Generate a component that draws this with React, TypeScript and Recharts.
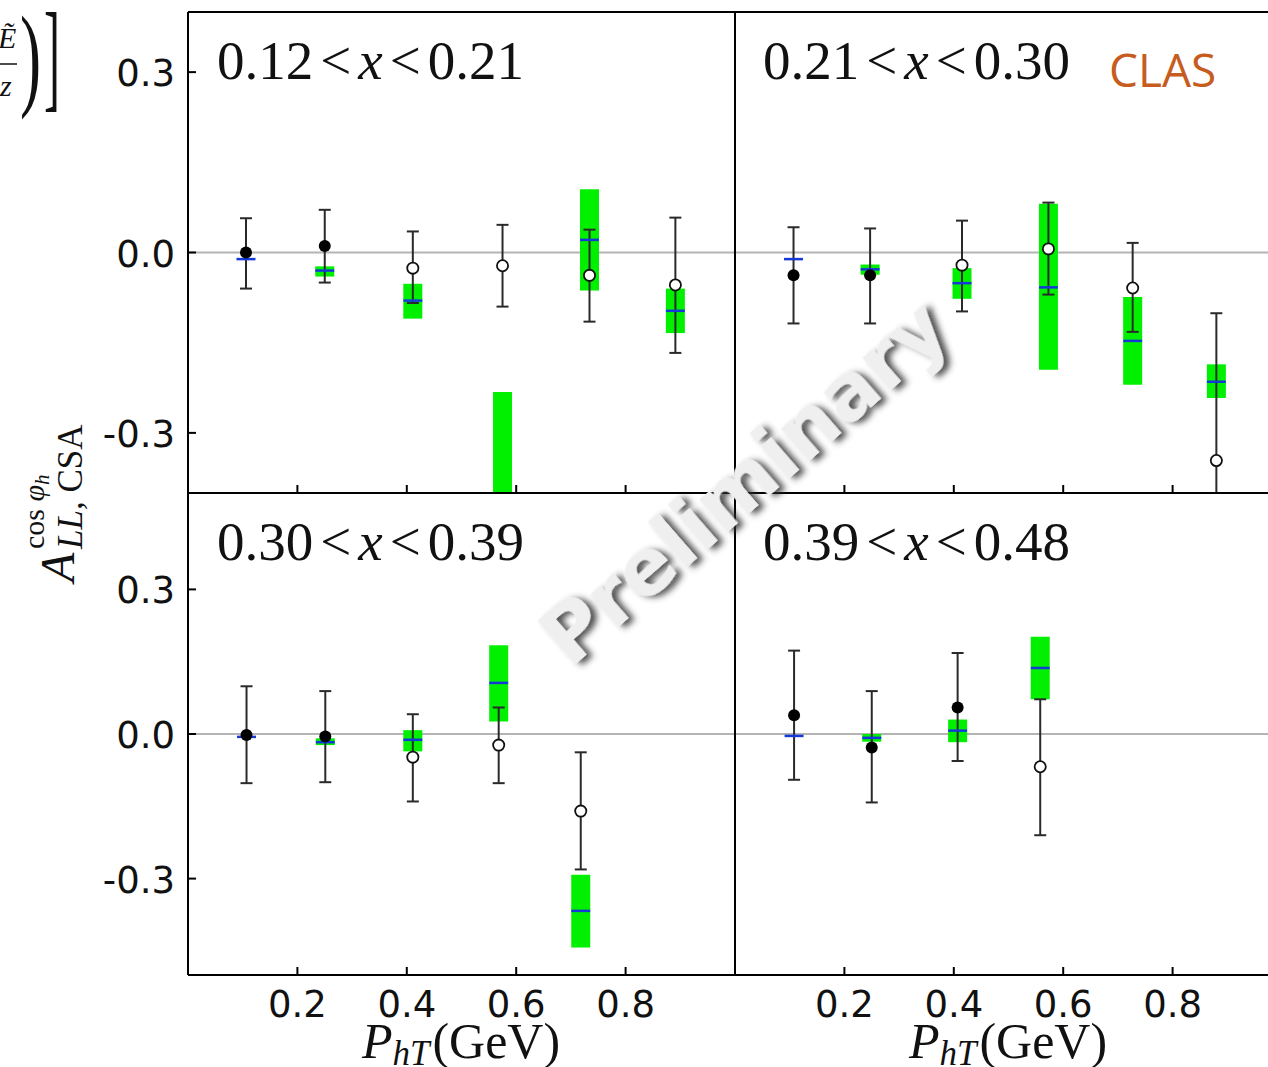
import React from 'react';
import { ScatterChart, Scatter, XAxis, YAxis, ErrorBar, ReferenceLine } from 'recharts';

// 0.12 < x < 0.21
const p1X = [0.106, 0.25, 0.411, 0.575, 0.734, 0.891];
const p1Val = [0.0, 0.011, -0.026, -0.022, -0.038, -0.054];
const p1Filled = [true, true, false, false, false, false];
const p1StatHi = [0.057, 0.071, 0.035, 0.046, 0.038, 0.058];
const p1StatLo = [-0.06, -0.05, -0.084, -0.09, -0.115, -0.167];
const p1Model = [-0.011, -0.03, -0.08, -0.45, 0.021, -0.097];
const p1BandHi = [-0.011, -0.023, -0.052, -0.232, 0.105, -0.06];
const p1BandLo = [-0.011, -0.04, -0.11, -0.67, -0.063, -0.134];

// 0.21 < x < 0.30
const p2X = [0.107, 0.247, 0.415, 0.573, 0.727, 0.88];
const p2Val = [-0.038, -0.038, -0.021, 0.006, -0.059, -0.346];
const p2Filled = [true, true, false, false, false, false];
const p2StatHi = [0.042, 0.04, 0.053, 0.083, 0.016, -0.101];
const p2StatLo = [-0.118, -0.118, -0.098, -0.07, -0.132, -0.591];
const p2Model = [-0.011, -0.028, -0.051, -0.058, -0.147, -0.215];
const p2BandHi = [-0.011, -0.02, -0.026, 0.081, -0.074, -0.186];
const p2BandLo = [-0.011, -0.037, -0.077, -0.195, -0.22, -0.242];

// 0.30 < x < 0.39
const p3X = [0.107, 0.251, 0.411, 0.568, 0.718];
const p3Val = [-0.002, -0.005, -0.048, -0.023, -0.16];
const p3Filled = [true, true, false, false, false];
const p3StatHi = [0.099, 0.089, 0.041, 0.055, -0.038];
const p3StatLo = [-0.102, -0.1, -0.14, -0.102, -0.281];
const p3Model = [-0.006, -0.017, -0.012, 0.106, -0.367];
const p3BandHi = [-0.006, -0.009, 0.008, 0.184, -0.292];
const p3BandLo = [-0.006, -0.023, -0.036, 0.026, -0.443];

// 0.39 < x < 0.48
const p4X = [0.108, 0.25, 0.407, 0.558];
const p4Val = [0.039, -0.028, 0.055, -0.068];
const p4Filled = [true, true, true, false];
const p4StatHi = [0.173, 0.089, 0.168, 0.072];
const p4StatLo = [-0.095, -0.142, -0.056, -0.21];
const p4Model = [-0.004, -0.008, 0.007, 0.137];
const p4BandHi = [-0.004, 0.0, 0.03, 0.202];
const p4BandLo = [-0.004, -0.016, -0.017, 0.072];

const xTicks = [0.2, 0.4, 0.6, 0.8];
const yTicks = [-0.3, 0.0, 0.3];

const PLOT_W = 547;
const SERIF = '"Liberation Serif", "DejaVu Serif", serif';
const SANS = '"DejaVu Sans", sans-serif';

const buildPoints = (xs: number[], val: number[], lo: number[], hi: number[], filled: boolean[]) =>
    xs.map((x, i) => ({ x, y: val[i], err: [val[i] - lo[i], hi[i] - val[i]], filled: filled[i] }));

const buildModel = (xs: number[], model: number[], lo: number[], hi: number[]) =>
    xs.map((x, i) => ({ x, y: model[i], band: [model[i] - lo[i], hi[i] - model[i]] }));

const Dot = (props: any) => {
    const { cx, cy, payload } = props;
    if (cx == null || cy == null) return null;
    return payload.filled
        ? <circle cx={cx} cy={cy} r={6} fill="#000" />
        : <circle cx={cx} cy={cy} r={5.6} fill="#fff" stroke="#111" strokeWidth={1.8} />;
};

const BlueMark = (props: any) => {
    const { cx, cy } = props;
    if (cx == null || cy == null) return null;
    return <line x1={cx - 9.5} y1={cy} x2={cx + 9.5} y2={cy} stroke="#1638d8" strokeWidth={2.5} />;
};

const makeXTick = (label: boolean) => (props: any) => {
    const { x, y, payload } = props;
    return (
        <g>
            <line x1={x} y1={y} x2={x} y2={y - 8} stroke="#000" strokeWidth={2} />
            {label && (
                <text x={x} y={y + 42} textAnchor="middle" fontFamily={SANS} fontSize={37} fill="#111">
                    {Number(payload.value).toFixed(1)}
                </text>
            )}
        </g>
    );
};

const YTick = (props: any) => {
    const { x, y, payload } = props;
    return (
        <g>
            <line x1={x} y1={y} x2={x + 8} y2={y} stroke="#000" strokeWidth={2} />
            <text x={x - 13} y={y + 14} textAnchor="end" fontFamily={SANS} fontSize={37} fill="#111">
                {Number(payload.value).toFixed(1)}
            </text>
        </g>
    );
};

interface PanelProps {
    left: number;
    top: number;
    height: number;
    domain: [number, number];
    yLabels: boolean;
    xLabels: boolean;
    clipBottom: boolean;
    points: any[];
    model: any[];
}

const Panel: React.FC<PanelProps> = ({ left, top, height, domain, yLabels, xLabels, clipBottom, points, model }) => {
    const M = 4;
    const yw = yLabels ? 80 : 1;
    const xh = xLabels ? 60 : 1;
    const w = M + yw + PLOT_W + 1 + M;
    const h = M + 1 + height + xh + M;
    // top panels are cut at their lower frame, like the original figure
    const boxH = clipBottom ? M + 1 + height + 1 : h;
    return (
        <div style={{ position: 'absolute', left: left - M - yw, top: top - M - 1, width: w, height: boxH, overflow: 'hidden' }}>
            <ScatterChart width={w} height={h} margin={{ top: M, right: M, bottom: M, left: M }}>
                <XAxis
                    type="number" dataKey="x" domain={[0, 1]} ticks={xTicks} allowDataOverflow
                    height={xh} tickSize={0} tickMargin={0} tickLine={false}
                    axisLine={{ stroke: '#000', strokeWidth: 2 }}
                    tick={makeXTick(xLabels)}
                />
                <XAxis
                    xAxisId="top" orientation="top" type="number" domain={[0, 1]} height={1}
                    tick={false} tickLine={false} axisLine={{ stroke: '#000', strokeWidth: 2 }}
                />
                <YAxis
                    type="number" dataKey="y" domain={domain} ticks={yTicks} allowDataOverflow
                    width={yw} tickSize={0} tickMargin={0} tickLine={false}
                    axisLine={{ stroke: '#000', strokeWidth: 2 }}
                    tick={yLabels ? YTick : false}
                />
                <YAxis
                    yAxisId="right" orientation="right" type="number" domain={domain} width={1}
                    tick={false} tickLine={false} axisLine={{ stroke: '#000', strokeWidth: 2 }}
                />
                <ReferenceLine y={0} stroke="#b4b4b4" strokeWidth={2} />
                <Scatter data={model} shape={BlueMark} isAnimationActive={false}>
                    <ErrorBar dataKey="band" direction="y" width={0} stroke="#00f000" strokeWidth={19} />
                </Scatter>
                <Scatter data={points} shape={Dot} isAnimationActive={false}>
                    <ErrorBar dataKey="err" direction="y" width={6} stroke="#2a2a2a" strokeWidth={2} />
                </Scatter>
            </ScatterChart>
        </div>
    );
};

const Title = ({ x, y, a, b }: { x: number; y: number; a: string; b: string }) => (
    <text x={x} y={y} fontFamily={SERIF} fontSize={55} fill="#111">
        {a}
        <tspan dx={7}>{'<'}</tspan>
        <tspan dx={7} fontStyle="italic">x</tspan>
        <tspan dx={7}>{'<'}</tspan>
        <tspan dx={7}>{b}</tspan>
    </text>
);

const XLabel = ({ cx }: { cx: number }) => (
    <text x={cx} y={1058} textAnchor="middle" fontFamily={SERIF} fontSize={50} fill="#111">
        <tspan fontStyle="italic">P</tspan>
        <tspan fontStyle="italic" fontSize={35} dy={7}>hT</tspan>
        <tspan dy={-7} dx={3}>(GeV)</tspan>
    </text>
);

export default function App() {
    return (
        <div style={{ position: 'absolute', left: 0, top: 0, width: 1268, height: 1067, overflow: 'hidden', background: '#fff' }}>
            <Panel left={188} top={12} height={481} domain={[-0.4, 0.4]} yLabels xLabels={false} clipBottom
                points={buildPoints(p1X, p1Val, p1StatLo, p1StatHi, p1Filled)}
                model={buildModel(p1X, p1Model, p1BandLo, p1BandHi)} />
            <Panel left={735} top={12} height={481} domain={[-0.4, 0.4]} yLabels={false} xLabels={false} clipBottom
                points={buildPoints(p2X, p2Val, p2StatLo, p2StatHi, p2Filled)}
                model={buildModel(p2X, p2Model, p2BandLo, p2BandHi)} />
            <Panel left={188} top={493} height={482} domain={[-0.5, 0.5]} yLabels xLabels clipBottom={false}
                points={buildPoints(p3X, p3Val, p3StatLo, p3StatHi, p3Filled)}
                model={buildModel(p3X, p3Model, p3BandLo, p3BandHi)} />
            <Panel left={735} top={493} height={482} domain={[-0.5, 0.5]} yLabels={false} xLabels clipBottom={false}
                points={buildPoints(p4X, p4Val, p4StatLo, p4StatHi, p4Filled)}
                model={buildModel(p4X, p4Model, p4BandLo, p4BandHi)} />

            <svg width={1268} height={1067} style={{ position: 'absolute', left: 0, top: 0, pointerEvents: 'none' }}>
                <defs>
                    <filter id="wmShadow" x="-20%" y="-20%" width="140%" height="140%">
                        <feDropShadow dx="4" dy="5" stdDeviation="3" floodColor="#333" floodOpacity="0.85" />
                    </filter>
                </defs>

                {/* clipped formula fragment at the top-left corner */}
                <text x={-2} y={48} fontFamily={SERIF} fontSize={30} fontStyle="italic" fill="#111">Ẽ</text>
                <line x1={-4} y1={64} x2={17} y2={64} stroke="#111" strokeWidth={1.5} />
                <text x={0} y={96} fontFamily={SERIF} fontSize={30} fontStyle="italic" fill="#111">z</text>
                <text transform="translate(20,95) scale(0.55,1)" fontFamily={SERIF} fontSize={115} fill="#111">)</text>
                <text transform="translate(44,96) scale(0.4,1)" fontFamily={SERIF} fontSize={120} fill="#111">]</text>

                <Title x={217} y={79} a="0.12" b="0.21" />
                <Title x={763} y={79} a="0.21" b="0.30" />
                <Title x={217} y={560} a="0.30" b="0.39" />
                <Title x={763} y={560} a="0.39" b="0.48" />

                <text x={1109} y={87} fontFamily='"Open Sans", "Noto Sans", sans-serif' fontSize={46} fill="#c65d1e">CLAS</text>

                <XLabel cx={461} />
                <XLabel cx={1008} />

                <g transform="translate(74,582) rotate(-90)" fontFamily={SERIF} fill="#111">
                    <text x={0} y={0} fontSize={48} fontStyle="italic">A</text>
                    <text x={33} y={-30} fontSize={30}>
                        cos <tspan fontStyle="italic">φ</tspan>
                        <tspan fontStyle="italic" fontSize={21} dy={5}>h</tspan>
                    </text>
                    <text x={33} y={8} fontSize={35}>
                        <tspan fontStyle="italic">LL,</tspan> CSA
                    </text>
                </g>

                <text
                    transform="translate(744,482) rotate(-41)"
                    textAnchor="middle" dominantBaseline="central"
                    fontFamily='"DejaVu Sans", sans-serif' fontWeight="bold" fontSize={78}
                    fill="#efefef" filter="url(#wmShadow)"
                >
                    Preliminary
                </text>
            </svg>
        </div>
    );
}
